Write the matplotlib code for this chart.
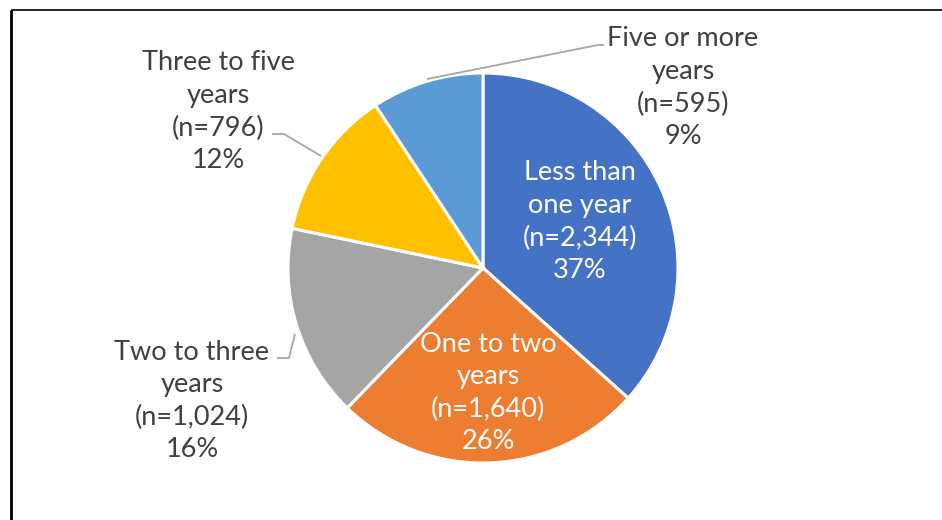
import matplotlib
matplotlib.use("Agg")
import matplotlib.pyplot as plt

# Tenure groups and respondent counts
categories = ["Less than\none year", "One to two\nyears", "Two to three\nyears",
              "Three to five\nyears", "Five or more\nyears"]
counts = [2344, 1640, 1024, 796, 595]
colors = ["#4472C4", "#ED7D31", "#A5A5A5", "#FFC000", "#5B9BD5"]

total = sum(counts)
labels = [f"{c}\n(n={n:,})\n{round(100 * n / total):.0f}%" for c, n in zip(categories, counts)]

W, H = 942, 520
fig = plt.figure(figsize=(W / 100, H / 100), dpi=100)
ax = fig.add_axes([0, 0, 1, 1])

FONT = "Lato"
plt.rcParams["font.family"] = [FONT, "DejaVu Sans"]

cx, cy, r = 483, H - 268, 195
ax.pie(counts, colors=colors, startangle=90, counterclock=False,
       center=(cx, cy), radius=r, frame=True,
       wedgeprops=dict(edgecolor="white", linewidth=2.2))
ax.set_xlim(0, W)
ax.set_ylim(0, H)
ax.axis("off")

# label block centres (x, y of first line, pixels from top) and text colour
label_pos = [(580, 173, "white"), (488, 344, "white"), (192, 352, "#404040"),
             (218, 63, "#404040"), (683, 39, "#404040")]
LINE_GAP = 32.5
for text, (x, y0, col) in zip(labels, label_pos):
    for i, line in enumerate(text.split("\n")):
        ax.text(x, H - (y0 + i * LINE_GAP), line, ha="center", va="center",
                fontsize=19.5, color=col, family=[FONT, "DejaVu Sans"])

# leader lines for the outside labels
leaders = [
    [(277, 358), (289, 358), (295, 334)],
    [(272, 134), (284, 134), (321, 156)],
    [(427, 79), (598, 45), (604, 45)],
]
for pts in leaders:
    xs = [p[0] for p in pts]
    ys = [H - p[1] for p in pts]
    ax.plot(xs, ys, color="#A6A6A6", lw=1.3, solid_capstyle="butt")

# chart frame (top and left edges)
ax.plot([11, W], [H - 10, H - 10], color="black", lw=1.2, solid_capstyle="butt")
ax.plot([11, 11], [H - 10, 0], color="black", lw=2.0, solid_capstyle="butt")

fig.savefig("out.png", dpi=100)
